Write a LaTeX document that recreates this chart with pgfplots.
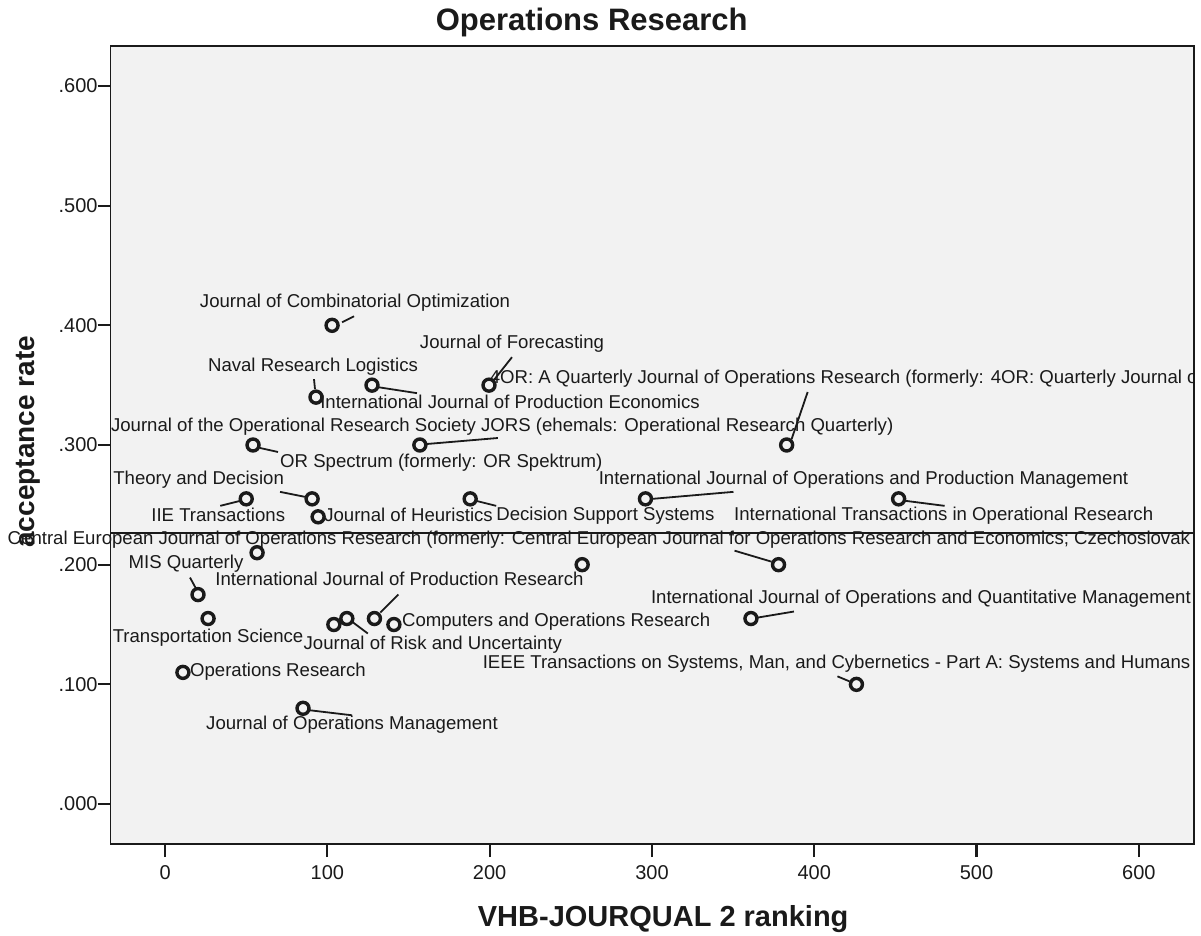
\documentclass[border=0pt]{standalone}
\usepackage{pgfplots}
\pgfplotsset{compat=1.18}
\usepackage{fontspec}
\setmainfont{Liberation Sans}
\definecolor{bg}{RGB}{242,242,242}
\definecolor{ink}{RGB}{26,26,26}
\tikzset{
  lab/.style={inner sep=0pt, font=\fontsize{18.6}{20}\selectfont, text=ink},
  leader/.style={line width=1.8pt, ink},
}
% label: x, y, xshift, yshift, anchor, text
\newcommand{\lab}[6]{\node[lab, anchor=#5, xshift=#3pt, yshift=#4pt] at (axis cs:#1,#2) {#6};}
% leader: x, y, start dx, start dy, end dx, end dy
\newcommand{\lead}[6]{\draw[leader] ([xshift=#3pt,yshift=#4pt]axis cs:#1,#2) -- ([xshift=#5pt,yshift=#6pt]axis cs:#1,#2);}
\begin{document}
\begin{tikzpicture}
\useasboundingbox (-110.7pt,-91pt) rectangle (1090.3pt,844pt);
\begin{axis}[
  at={(0,0)}, anchor=south west,
  scale only axis, width=1083.3pt, height=798pt,
  xmin=-33.5, xmax=634, ymin=-0.0334, ymax=0.6334,
  clip=false,
  axis background/.style={fill=bg},
  axis line style={line width=1.6pt, ink},
  tick pos=left, tick align=outside, major tick length=13pt,
  major tick style={line width=2.2pt, ink},
  minor tick num=0,
  xtick={0,100,200,300,400,500,600},
  xticklabels={0,100,200,300,400,500,600},
  ytick={0,0.1,0.2,0.3,0.4,0.5,0.6},
  yticklabels={.000,.100,.200,.300,.400,.500,.600},
  ticklabel style={font=\fontsize{20}{24}\selectfont, text=ink},
  xticklabel style={inner sep=0pt, yshift=-8pt},
  yticklabel style={inner sep=0pt},
  title={Operations Research},
  title style={font=\bfseries\fontsize{31}{34}\selectfont, text=ink, inner sep=0pt,
    at={(axis description cs:0.444,1.0113)}, anchor=base},
  xlabel={VHB-JOURQUAL 2 ranking},
  xlabel style={font=\bfseries\fontsize{29}{32}\selectfont, text=ink, inner sep=0pt,
    at={(axis description cs:0.51,-0.10276)}, anchor=base},
  ylabel={acceptance rate},
  ylabel style={font=\bfseries\fontsize{28}{32}\selectfont, text=ink, inner sep=0pt,
    at={(axis description cs:-0.0700,0.504)}, anchor=base},
]
% reference line
\addplot[line width=1.5pt, ink, no marks] coordinates {(-33.5,0.2265) (634,0.2265)};

% labels and leader lines
\lab{102.9}{0.400}{23}{20}{mid}{Journal of Combinatorial Optimization}
\lead{102.9}{0.400}{10}{3}{22}{9}
\lab{199.6}{0.350}{23}{39}{mid}{Journal of Forecasting}
\lead{199.6}{0.350}{4}{4}{23}{28}
\lab{93.0}{0.340}{-3}{28}{mid}{Naval Research Logistics}
\lead{93.0}{0.340}{-1}{8}{-2}{18}
\lab{127.5}{0.350}{138}{-21}{mid}{International Journal of Production Economics}
\lead{127.5}{0.350}{6}{-2}{45}{-8}
\lab{383.0}{0.300}{-297}{64}{mid west}{4OR: A Quarterly Journal of Operations Research (formerly: 4OR: Quarterly Journal of the Belgian, French and Italian Operations Research Societies)}
\lead{383.0}{0.300}{5}{6}{21}{53}
\lab{54.2}{0.300}{27}{-20}{mid west}{OR Spectrum (formerly: OR Spektrum)}
\lead{54.2}{0.300}{7}{-3}{25}{-7}
\lab{157.0}{0.300}{-309}{16}{mid west}{Journal of the Operational Research Society JORS (ehemals: Operational Research Quarterly)}
\lead{157.0}{0.300}{7}{1}{78}{7}
\lab{50.0}{0.255}{-28}{-20}{mid}{IIE Transactions}
\lead{50.0}{0.255}{-6}{-2}{-26}{-7}
\lab{90.6}{0.255}{-199}{17}{mid west}{Theory and Decision}
\lead{90.6}{0.255}{-7}{2}{-32}{7}
\lab{94.3}{0.240}{6}{-2}{mid west}{Journal of Heuristics}
\lab{188.0}{0.255}{26}{-19}{mid west}{Decision Support Systems}
\lead{188.0}{0.255}{6}{-2}{26}{-7}
\lab{296.0}{0.255}{218}{17}{mid}{International Journal of Operations and Production Management}
\lead{296.0}{0.255}{7}{0}{88}{7}
\lab{452.0}{0.255}{45}{-19}{mid}{International Transactions in Operational Research}
\lead{452.0}{0.255}{7}{-2}{46}{-7}
\lab{378.0}{0.200}{-771}{23}{mid west}{Central European Journal of Operations Research (formerly: Central European Journal for Operations Research and Economics; Czechoslovak Journal for Operations Research)}
\lead{378.0}{0.200}{-7}{3}{-44}{14}
\lab{20.3}{0.175}{-12}{29}{mid}{MIS Quarterly}
\lead{20.3}{0.175}{-2}{6}{-8}{17}
\lab{26.5}{0.155}{0}{-21}{mid}{Transportation Science}
\lab{112.0}{0.155}{86}{-28}{mid}{Journal of Risk and Uncertainty}
\lead{112.0}{0.155}{5}{-3}{21}{-15}
\lab{129.0}{0.155}{25}{36}{mid}{International Journal of Production Research}
\lead{129.0}{0.155}{6}{6}{24}{24}
\lab{141.0}{0.150}{8}{1}{mid west}{Computers and Operations Research}
\lab{11.0}{0.110}{7}{-1}{mid west}{Operations Research}
\lab{85.0}{0.080}{49}{-19}{mid}{Journal of Operations Management}
\lead{85.0}{0.080}{7}{-2}{49}{-7}
\lab{361.0}{0.155}{440}{18}{mid east}{International Journal of Operations and Quantitative Management}
\lead{361.0}{0.155}{7}{1}{43}{7}
\lab{426.0}{0.100}{334}{18}{mid east}{IEEE Transactions on Systems, Man, and Cybernetics - Part A: Systems and Humans}
\lead{426.0}{0.100}{-7}{3}{-19}{8}

% data points
\addplot[only marks, mark=*, mark size=6.0pt,
  mark options={line width=3.4pt, draw=ink, fill=bg}] table {
x y
102.9 0.400
199.6 0.350
93.0 0.340
127.5 0.350
383.0 0.300
54.2 0.300
157.0 0.300
50.0 0.255
90.6 0.255
94.3 0.240
188.0 0.255
296.0 0.255
452.0 0.255
56.7 0.210
257.0 0.200
378.0 0.200
20.3 0.175
26.5 0.155
104.0 0.150
112.0 0.155
129.0 0.155
141.0 0.150
11.0 0.110
85.0 0.080
361.0 0.155
426.0 0.100
};
\end{axis}
\fill[white] (1084.2pt,-91pt) rectangle (1091pt,844pt);
\end{tikzpicture}
\end{document}
